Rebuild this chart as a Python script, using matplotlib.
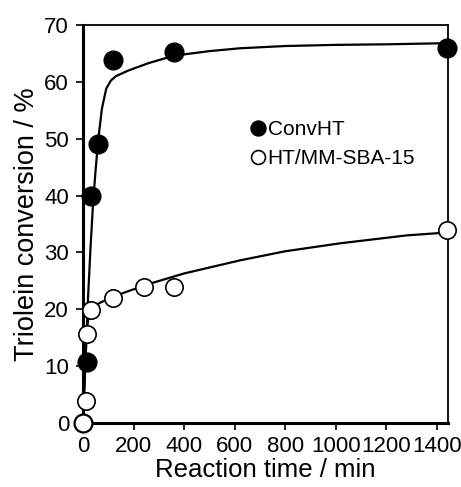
import numpy as np
import matplotlib.pyplot as plt

plt.rcParams['font.family'] = ['Liberation Sans', 'DejaVu Sans']

# measured points
t_conv = [0, 15, 30, 60, 120, 360, 1440]
y_conv = [0, 10.7, 40, 49, 63.8, 65.3, 66]
t_ht = [0, 10, 15, 30, 120, 240, 360, 1440]
y_ht = [0, 3.8, 15.7, 19.8, 22, 24, 24, 33.9]

# fitted trend lines
t_conv_fit = [0, 10, 20, 30, 40, 50, 60, 75, 92, 110, 130, 180, 260, 360, 500, 620, 800, 1000, 1200, 1440]
y_conv_fit = [0, 11, 22, 31, 38.7, 44.5, 49.7, 55.3, 58.8, 60.2, 61, 62, 63.3, 64.6, 65.4, 65.9, 66.3, 66.5, 66.6, 66.8]
t_ht_fit = [0, 5, 10, 15, 22, 30, 45, 70, 120, 180, 272, 400, 621, 800, 1017, 1282, 1440]
y_ht_fit = [0, 6, 11.5, 16, 18.8, 19.9, 20.6, 21.2, 22.2, 23.2, 24.6, 26.3, 28.6, 30.2, 31.6, 33.0, 33.5]

fig = plt.figure(figsize=(4.61, 4.87), dpi=100)
ax = fig.add_axes([0.18, 0.1314, 0.792, 0.8173])

ax.plot(t_conv_fit, y_conv_fit, color='black', lw=1.6, zorder=2)
ax.plot(t_ht_fit, y_ht_fit, color='black', lw=1.6, zorder=2)
ax.plot(t_conv, y_conv, 'o', color='black', ms=13.5, mec='black', clip_on=False, zorder=3, label='ConvHT')
ax.plot(t_ht, y_ht, 'o', color='white', ms=12.5, mec='black', mew=1.2, clip_on=False, zorder=4, label='HT/MM-SBA-15')

ax.set_xlim(0, 1445)
ax.set_ylim(0, 70)
ax.set_xticks(np.arange(0, 1401, 200))
ax.set_yticks(np.arange(0, 71, 10))
ax.tick_params(direction='out', length=5, width=1.2, labelsize=16, pad=4)
ax.tick_params(axis='y', pad=5)
ax.spines['left'].set_linewidth(2.2)
ax.spines['bottom'].set_linewidth(2.2)
ax.spines['top'].set_linewidth(1.3)
ax.spines['right'].set_linewidth(1.3)

ax.set_xlabel('Reaction time / min', fontsize=18.5, labelpad=1)
ax.set_ylabel('Triolein conversion / %', fontsize=19.5, labelpad=3)

leg = ax.legend(loc='upper left', bbox_to_anchor=(251 / 461, 1 - 120 / 487),
                bbox_transform=fig.transFigure, frameon=False, fontsize=15,
                markerscale=0.8, handlelength=0.7, handletextpad=0.1,
                labelspacing=0.5, borderaxespad=0, borderpad=0)

fig.savefig('out.png', dpi=100)
